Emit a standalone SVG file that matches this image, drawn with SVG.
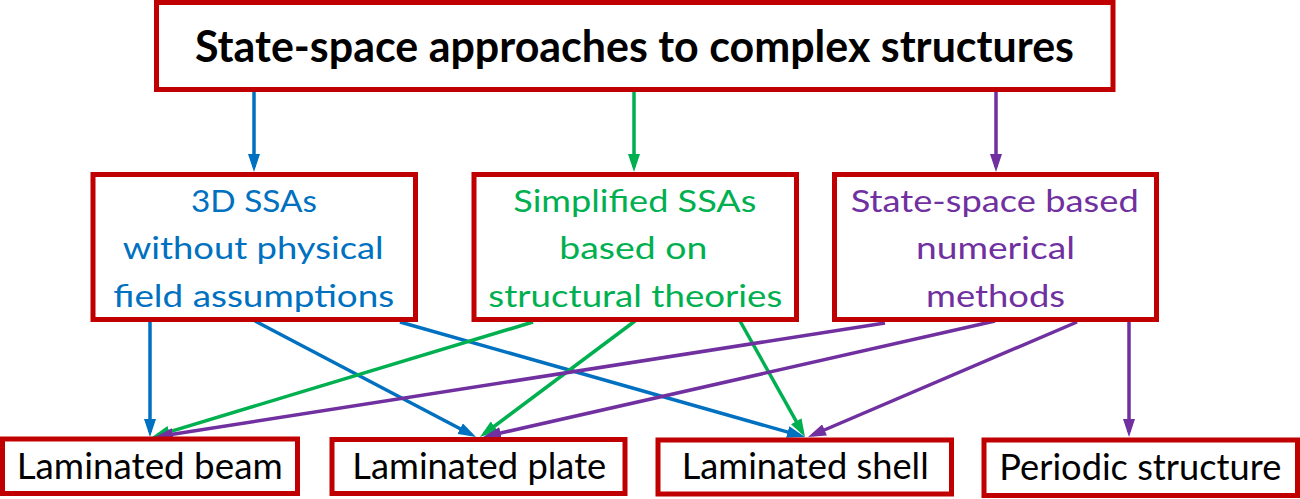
<svg xmlns="http://www.w3.org/2000/svg" width="1300" height="499" viewBox="0 0 1300 499">
<style>
.box{fill:#fff;stroke:#C00000;stroke-width:5}
.t{font-family:Lato,"Open Sans",sans-serif}
.title{font-size:43px;font-weight:bold;fill:#000}
.mid{font-size:31px}
.bot{font-size:36px;fill:#000}
.blue{fill:#0070C0}.green{fill:#00B050}.purple{fill:#7030A0}
.cb{stroke:#0070C0;stroke-width:3.5;fill:none;marker-end:url(#mb)}
.cg{stroke:#00B050;stroke-width:3.5;fill:none;marker-end:url(#mg)}
.cp{stroke:#7030A0;stroke-width:3.5;fill:none;marker-end:url(#mp)}
</style>
<defs>
<marker id="mb" markerUnits="userSpaceOnUse" markerWidth="18" markerHeight="12" refX="13" refY="6" orient="auto"><path d="M0,0 L18,6 L0,12 z" fill="#0070C0"/></marker>
<marker id="mg" markerUnits="userSpaceOnUse" markerWidth="18" markerHeight="12" refX="13" refY="6" orient="auto"><path d="M0,0 L18,6 L0,12 z" fill="#00B050"/></marker>
<marker id="mp" markerUnits="userSpaceOnUse" markerWidth="18" markerHeight="12" refX="13" refY="6" orient="auto"><path d="M0,0 L18,6 L0,12 z" fill="#7030A0"/></marker>
</defs>
<rect width="1300" height="499" fill="#fff"/>
<g id="connectors">
<line class="cb" x1="254" y1="91" x2="254" y2="167"/>
<line class="cg" x1="634" y1="91" x2="634" y2="167"/>
<line class="cp" x1="996" y1="91" x2="996" y2="167"/>
<line class="cb" x1="150" y1="319" x2="150" y2="432"/>
<line class="cb" x1="255" y1="321" x2="471.6" y2="434.7"/>
<line class="cb" x1="400" y1="322" x2="800.2" y2="435.6"/>
<line class="cg" x1="533" y1="322" x2="156.8" y2="435.6"/>
<line class="cg" x1="635" y1="321" x2="484" y2="434"/>
<line class="cg" x1="740" y1="321" x2="802.6" y2="432.6"/>
<line class="cp" x1="885" y1="323" x2="159.9" y2="436.2"/>
<line class="cp" x1="995" y1="321" x2="487.9" y2="435.9"/>
<line class="cp" x1="1077" y1="322" x2="812.6" y2="435"/>
<line class="cp" x1="1129" y1="319" x2="1129" y2="432"/>
</g>
<g id="root">
<rect class="box" x="156.5" y="2.5" width="956.5" height="87"/>
<text class="t title" x="195" y="62" textLength="879" lengthAdjust="spacingAndGlyphs">State-space approaches to complex structures</text>
</g>
<g id="ssa3d">
<rect class="box" x="93" y="174.5" width="322.5" height="145"/>
<text class="t mid blue" x="191" y="211.7" textLength="126" lengthAdjust="spacingAndGlyphs">3D SSAs</text>
<text class="t mid blue" x="122.7" y="259.3" textLength="261" lengthAdjust="spacingAndGlyphs">without physical</text>
<text class="t mid blue" x="113.3" y="306.5" textLength="281" lengthAdjust="spacingAndGlyphs">field assumptions</text>
</g>
<g id="simplified">
<rect class="box" x="474" y="174.5" width="322.5" height="145"/>
<text class="t mid green" x="513.3" y="211.7" textLength="243" lengthAdjust="spacingAndGlyphs">Simplified SSAs</text>
<text class="t mid green" x="559.3" y="259.3" textLength="148" lengthAdjust="spacingAndGlyphs">based on</text>
<text class="t mid green" x="488.3" y="306.5" textLength="294" lengthAdjust="spacingAndGlyphs">structural theories</text>
</g>
<g id="numerical">
<rect class="box" x="834.5" y="174.5" width="322" height="145"/>
<text class="t mid purple" x="850.7" y="211.7" textLength="288" lengthAdjust="spacingAndGlyphs">State-space based</text>
<text class="t mid purple" x="916" y="259.3" textLength="159" lengthAdjust="spacingAndGlyphs">numerical</text>
<text class="t mid purple" x="926" y="306.5" textLength="139" lengthAdjust="spacingAndGlyphs">methods</text>
</g>
<g id="beam">
<rect class="box" x="2.5" y="439" width="295" height="54.5"/>
<text class="t bot" x="16.7" y="478.5" textLength="266" lengthAdjust="spacingAndGlyphs">Laminated beam</text>
</g>
<g id="plate">
<rect class="box" x="332" y="439.5" width="293" height="54"/>
<text class="t bot" x="352.3" y="478.5" textLength="254" lengthAdjust="spacingAndGlyphs">Laminated plate</text>
</g>
<g id="shell">
<rect class="box" x="658" y="440" width="293.5" height="54"/>
<text class="t bot" x="681.7" y="479" textLength="247" lengthAdjust="spacingAndGlyphs">Laminated shell</text>
</g>
<g id="periodic">
<rect class="box" x="984" y="440" width="313.5" height="55.5"/>
<text class="t bot" x="999.3" y="479.5" textLength="282" lengthAdjust="spacingAndGlyphs">Periodic structure</text>
</g>
</svg>
